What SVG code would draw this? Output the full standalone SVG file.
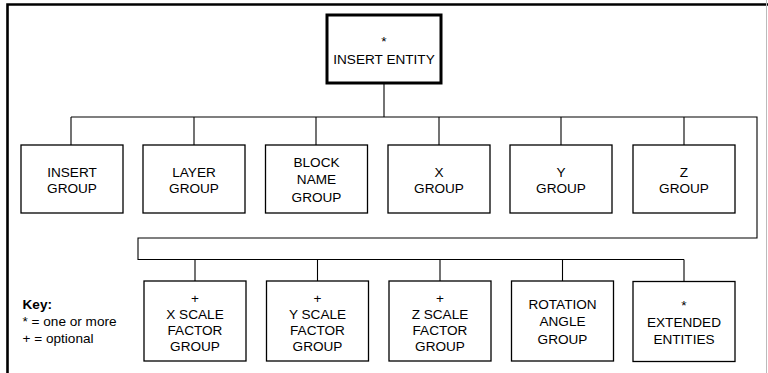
<svg xmlns="http://www.w3.org/2000/svg" width="768" height="373" viewBox="0 0 768 373">
<style>
.box{fill:#fff;stroke:#000;stroke-width:1.3}
.top{fill:#fff;stroke:#000;stroke-width:3}
.ln{fill:none;stroke:#000;stroke-width:1.1}
text{font-family:"Liberation Sans",Arial,sans-serif;font-size:13.6px;fill:#000;text-anchor:middle}
.key{text-anchor:start}
.b{font-weight:bold}
</style>
<rect width="768" height="373" fill="#fff"/>
<path d="M7.5,373 V4.5 H768" fill="none" stroke="#000" stroke-width="2.6"/>
<line x1="766.5" y1="0" x2="766.5" y2="373" stroke="#bbb" stroke-width="1"/>
<g id="connectors" class="ln">
<path d="M384,83 V117"/>
<path d="M71,117 H757 V238 H138 V259.5 H684"/>
<path d="M71,117 V145 M194,117 V145 M316,117 V145 M439,117 V145 M561,117 V145 M684,117 V145"/>
<path d="M195,259.5 V281 M317.5,259.5 V281 M440,259.5 V281 M562.5,259.5 V281 M684,259.5 V281"/>
</g>
<g id="insert-entity"><rect class="top" x="327" y="15" width="114" height="68"/><text x="384" y="46">*</text><text x="384" y="64">INSERT ENTITY</text></g>
<g id="insert-group"><rect class="box" x="21" y="145" width="102" height="68"/><text x="72" y="176.5">INSERT</text><text x="72" y="192.5">GROUP</text></g>
<g id="layer-group"><rect class="box" x="143" y="145" width="102" height="68"/><text x="194" y="176.5">LAYER</text><text x="194" y="192.5">GROUP</text></g>
<g id="block-name-group"><rect class="box" x="265.5" y="145" width="102" height="68"/><text x="316.5" y="167">BLOCK</text><text x="316.5" y="184">NAME</text><text x="316.5" y="201.5">GROUP</text></g>
<g id="x-group"><rect class="box" x="388" y="145" width="102" height="68"/><text x="439" y="176.5">X</text><text x="439" y="193">GROUP</text></g>
<g id="y-group"><rect class="box" x="510" y="145" width="102" height="68"/><text x="561" y="176.5">Y</text><text x="561" y="193">GROUP</text></g>
<g id="z-group"><rect class="box" x="633" y="145" width="102" height="68"/><text x="684" y="176.5">Z</text><text x="684" y="193">GROUP</text></g>
<g id="x-scale"><rect class="box" x="144" y="281" width="102" height="80"/><text x="195" y="303">+</text><text x="195" y="319">X SCALE</text><text x="195" y="335">FACTOR</text><text x="195" y="351">GROUP</text></g>
<g id="y-scale"><rect class="box" x="266.5" y="281" width="102" height="80"/><text x="317.5" y="303">+</text><text x="317.5" y="319">Y SCALE</text><text x="317.5" y="335">FACTOR</text><text x="317.5" y="351">GROUP</text></g>
<g id="z-scale"><rect class="box" x="389" y="281" width="102" height="80"/><text x="440" y="303">+</text><text x="440" y="319">Z SCALE</text><text x="440" y="335">FACTOR</text><text x="440" y="351">GROUP</text></g>
<g id="rotation"><rect class="box" x="511.5" y="281" width="102" height="80"/><text x="562.5" y="309">ROTATION</text><text x="562.5" y="326">ANGLE</text><text x="562.5" y="344">GROUP</text></g>
<g id="extended"><rect class="box" x="633" y="281.5" width="102" height="80"/><text x="684" y="310">*</text><text x="684" y="327">EXTENDED</text><text x="684" y="344">ENTITIES</text></g>
<g id="key"><text class="key b" x="22.5" y="309">Key:</text><text class="key" x="22.5" y="326">* = one or more</text><text class="key" x="22.5" y="343">+ = optional</text></g>
</svg>
